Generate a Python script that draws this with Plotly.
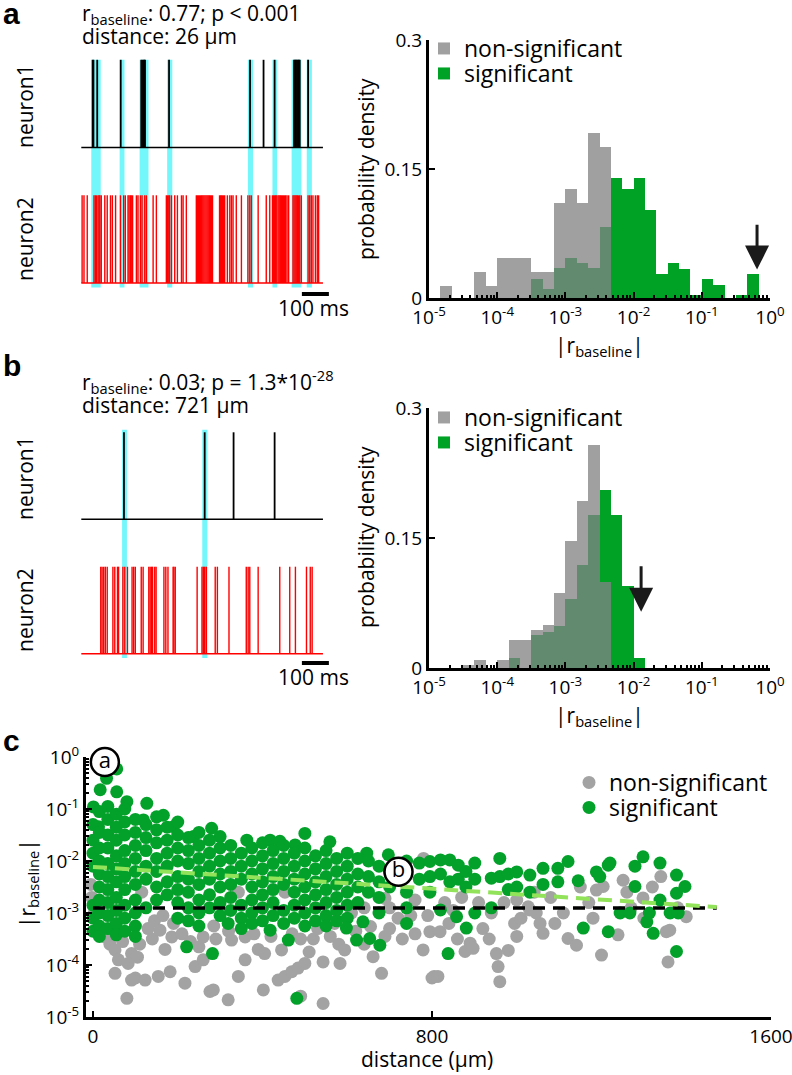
import numpy as np
import plotly.graph_objects as go

W, H = 792, 1075
FONT = "Open Sans"

# ---------------- data ----------------
# Panel a raster (times in ms)
a_n1_spikes = [42, 45, 59, 146, 222, 226, 230, 233, 236, 325, 625, 675, 716,
               788, 792, 795, 799, 803, 806, 809, 840]
a_n2_spikes = [3, 10, 22, 47, 52, 56, 62, 66, 69, 74, 87, 96, 108, 115, 127, 145, 157,
               163, 173, 177, 182, 185, 190, 204, 210, 219, 225, 235, 241, 266, 278,
               315, 319, 324, 327, 334, 346, 356, 371, 377, 389,
               426, 430, 434, 438, 442, 446, 450, 454, 458, 462, 466, 470, 474, 478, 482, 486,
               512, 516, 519, 523, 527, 531, 541, 550, 556, 562, 574, 593, 617, 624, 630,
               655, 685, 698, 708, 712, 716, 720, 724, 729, 733, 737, 741, 745, 749, 753,
               757, 762, 768, 784, 788, 792, 796, 800, 804, 809, 815, 840, 846, 852, 858,
               867, 874, 879]
a_band_start = [37, 142, 216, 318, 617, 708, 779, 835]
a_band_end = [72, 160, 249, 337, 636, 725, 815, 854]

# Panel b raster (times in ms)
b_n1_spikes = [158, 457, 564, 716]
b_n2_spikes = [72, 77, 83, 89, 96, 117, 124, 134, 138, 154, 161, 171, 188, 194, 200,
               222, 229, 250, 255, 260, 264, 272, 277, 306, 313, 321, 340, 343, 348,
               429, 447, 452, 457, 463, 496, 504, 547, 611, 618, 624, 655, 735, 772,
               793, 834, 848, 855]
b_band_start = [151, 448]
b_band_end = [169, 467]
record_end_ms = 895
scale_bar_ms = [817, 917]

# Histograms: 30 log-spaced bins from 1e-5 to 1e0 (6 per decade), probability density
a_nonsig = [0, 0.0135, 0, 0, 0.0297, 0.0135, 0.046, 0.046, 0.046, 0.0297,
            0.0297, 0.111, 0.127, 0.111, 0.192, 0.176, 0, 0, 0, 0,
            0, 0, 0, 0, 0, 0, 0, 0, 0, 0]
a_sig = [0, 0, 0, 0, 0, 0, 0, 0, 0, 0.022,
         0.0104, 0.035, 0.047, 0.0405, 0.035, 0.083, 0.139, 0.127, 0.139, 0.102,
         0.028, 0.0405, 0.034, 0.004, 0.022, 0.0155, 0, 0.0035, 0.028, 0]
b_nonsig = [0, 0, 0, 0.003, 0.009, 0, 0.009, 0.032, 0.032, 0.044,
            0.05, 0.087, 0.146, 0.193, 0.257, 0.0996, 0, 0, 0, 0,
            0, 0, 0, 0, 0, 0, 0, 0, 0, 0]
b_sig = [0, 0, 0, 0, 0, 0, 0, 0.0115, 0, 0.038,
         0.041, 0.049, 0.08, 0.119, 0.177, 0.205, 0.177, 0.095, 0.0115, 0,
         0, 0, 0, 0, 0, 0, 0, 0, 0, 0]
a_arrow_log10r = -0.19
b_arrow_log10r = -1.89

# Panel c scatter: (distance in um, log10 |r_baseline|)
nonsig_points = [
    (-5, -2.45), (-3, -2.7), (3, -3.0), (20, -3.3), (28, -3.46), (40, -3.6), (52, -3.71), (52, -4.16),
    (60, -3.9), (70, -3.55), (80, -4.64), (83, -3.97), (91, -3.78), (91, -4.29), (100, -4.25),
    (105, -3.85), (110, -3.6), (115, -2.6), (123, -4.29), (130, -3.3), (140, -3.5), (145, -3.15),
    (154, -4.22), (158, -3.33), (165, -3.05), (170, -3.7), (182, -4.13), (186, -3.46), (190, -3.2),
    (210, -3.4), (217, -4.35), (230, -3.55), (241, -4.03), (250, -3.65), (260, -3.9), (260, -3.46),
    (276, -4.51), (284, -4.48), (290, -3.5), (285, -3.25), (319, -4.67), (320, -3.35), (327, -3.52),
    (343, -4.22), (343, -2.6), (359, -3.9), (359, -3.46), (380, -3.4), (390, -3.7), (402, -4.48),
    (405, -3.78), (420, -3.45), (437, -4.29), (445, -3.71), (453, -4.22), (453, -2.6), (469, -4.13),
    (470, -3.4), (484, -4.06), (490, -3.5), (490, -4.6), (500, -3.97), (510, -3.75), (520, -3.5),
    (530, -3.3), (543, -3.94), (543, -4.74), (560, -3.45), (570, -3.2), (580, -3.6), (583, -3.97),
    (594, -3.71), (610, -3.0), (620, -3.35), (640, -3.6), (640, -2.9), (655, -3.26), (661, -3.84),
    (681, -4.16), (689, -3.45), (689, -2.72), (700, -3.3), (700, -2.9), (720, -3.1), (730, -3.5),
    (750, -3.05), (760, -2.75), (760, -3.4), (779, -3.71), (780, -1.95), (790, -3.05), (795, -3.36),
    (800, -4.25), (805, -4.22), (814, -4.22), (819, -3.36), (830, -2.8), (840, -3.2), (850, -2.95),
    (860, -3.5), (870, -2.7), (878, -3.74), (890, -3.58), (897, -3.68), (910, -2.8), (920, -3.3),
    (935, -3.5), (940, -3.0), (952, -3.78), (956, -4.03), (960, -4.32), (970, -2.8), (980, -3.72),
    (995, -3.2), (1000, -2.75), (1000, -3.45), (1010, -3.1), (1027, -2.88), (1031, -2.94),
    (1041, -2.6), (1046, -3.0), (1055, -3.2), (1062, -3.39), (1080, -2.7), (1090, -3.2),
    (1110, -3.0), (1121, -3.49), (1141, -3.62), (1150, -2.5), (1170, -2.8), (1180, -3.1),
    (1188, -2.56), (1200, -3.81), (1204, -2.49), (1239, -3.42), (1251, -2.37), (1260, -2.6),
    (1270, -2.9), (1298, -2.71), (1300, -3.1), (1320, -2.5), (1340, -2.3), (1353, -3.36),
    (1357, -3.94), (1361, -3.33), (1380, -2.9), (1400, -3.07),
]
sig_points = [
    (56, -0.23), (32, -0.41), (17, -0.63), (56, -0.67), (80, -0.86), (127, -0.89), (166, -1.12),
    (119, -1.21), (13, -1.34), (1, -0.96), (280, -1.37), (300, -1.53), (237, -1.53), (190, -1.34),
    (363, -1.6), (418, -1.6), (441, -1.62), (477, -1.69), (500, -1.47), (559, -1.63), (646, -1.85),
    (697, -1.88),
    (0, -1.3), (0, -1.6), (0, -1.85), (0, -2.1), (0, -2.85), (0, -3.1), (0, -3.35),
    (15, -1.05), (15, -1.45), (15, -1.75), (15, -2.0), (15, -2.25), (15, -2.5), (15, -2.75), (15, -3.0), (15, -3.25), (15, -3.45),
    (35, -0.95), (35, -1.2), (35, -1.5), (35, -1.75), (35, -2.05), (35, -2.3), (35, -2.55), (35, -2.8), (35, -3.05), (35, -3.3),
    (55, -1.1), (55, -1.35), (55, -1.6), (55, -1.9), (55, -2.15), (55, -2.4), (55, -2.7), (55, -2.95), (55, -3.2), (55, -3.42),
    (75, -1.0), (75, -1.25), (75, -1.5), (75, -1.8), (75, -2.05), (75, -2.3), (75, -2.55), (75, -2.85), (75, -3.1), (75, -3.35),
    (100, -1.2), (100, -1.45), (100, -1.7), (100, -1.95), (100, -2.2), (100, -2.45), (100, -2.75), (100, -3.0), (100, -3.25), (100, -3.45),
    (125, -1.3), (125, -1.55), (125, -1.8), (125, -2.1), (125, -2.35), (125, -2.9),
    (150, -1.15), (150, -1.4), (150, -1.65), (150, -1.95), (150, -2.2), (150, -2.5), (150, -2.75),
    (175, -1.35), (175, -1.6), (175, -1.85), (175, -2.1), (175, -2.4), (175, -2.65),
    (200, -1.25), (200, -1.5), (200, -1.75), (200, -2.0), (200, -2.3), (200, -2.55), (200, -2.8), (200, -3.1),
    (225, -1.55), (225, -1.8), (225, -2.05), (225, -2.35), (225, -2.6), (225, -2.9), (225, -3.15),
    (250, -1.45), (250, -1.7), (250, -1.95), (250, -2.2), (250, -2.45), (250, -2.75), (250, -3.0), (250, -3.25),
    (275, -1.6), (275, -1.85), (275, -2.1), (275, -2.35), (275, -2.65), (275, -2.9),
    (300, -1.75), (300, -2.0), (300, -2.25), (300, -2.5), (300, -2.8), (300, -3.05),
    (325, -1.7), (325, -1.95), (325, -2.2), (325, -2.45), (325, -2.7), (325, -2.95), (319, -3.2),
    (350, -1.85), (350, -2.1), (350, -2.35), (350, -2.85), (350, -3.1), (350, -3.3),
    (375, -1.75), (375, -2.0), (375, -2.25), (375, -2.5), (375, -2.75), (375, -3.0), (375, -3.2),
    (400, -1.65), (400, -1.9), (400, -2.15), (400, -2.4), (400, -2.65), (400, -2.9), (400, -3.15),
    (425, -1.8), (425, -2.05), (425, -2.3), (425, -2.55), (425, -2.8), (425, -3.05), (418, -3.33),
    (450, -1.7), (450, -1.95), (450, -2.2), (450, -2.45), (450, -2.95), (450, -3.2),
    (475, -1.85), (475, -2.1), (475, -2.35), (475, -2.6), (475, -2.85), (475, -3.1),
    (500, -1.75), (500, -2.0), (500, -2.25), (500, -2.5), (500, -2.75), (500, -3.0), (500, -3.25),
    (525, -1.9), (525, -2.15), (525, -2.4), (525, -2.65), (525, -2.9), (525, -3.15),
    (550, -1.8), (550, -2.05), (550, -2.3), (550, -2.55), (550, -2.8), (550, -3.05), (550, -3.25),
    (575, -1.95), (575, -2.2), (575, -2.45), (575, -2.7), (575, -2.95), (575, -3.15),
    (600, -1.85), (600, -2.1), (600, -2.35), (600, -2.6), (600, -2.85), (600, -3.1),
    (221, -3.65), (282, -3.78), (461, -3.52), (481, -4.64), (598, -3.29), (622, -3.52), (653, -3.49),
    (677, -3.62), (637, -3.17), (740, -3.2), (838, -3.78), (881, -3.29), (858, -3.07), (1157, -3.29),
    (1216, -3.36), (1322, -3.39), (1377, -3.74), (1244, -3.0), (1267, -3.0), (1307, -3.17),
    (1362, -3.0), (1381, -3.0),
    (625, -1.95), (625, -2.25), (625, -2.5), (625, -2.8), (650, -2.0), (650, -2.3), (650, -2.6),
    (675, -2.1), (675, -2.4), (675, -2.7), (675, -3.0), (700, -2.2), (700, -2.5), (720, -2.21),
    (740, -2.0), (740, -2.6), (740, -2.9), (770, -2.04), (770, -2.35), (795, -2.01), (795, -2.3),
    (795, -2.6), (820, -1.98), (820, -2.25), (820, -2.94), (842, -1.98), (842, -2.4), (862, -2.08),
    (862, -2.35), (880, -2.2), (880, -2.5), (901, -2.04), (901, -2.35), (901, -3.0), (940, -2.33),
    (940, -2.9), (960, -1.95), (960, -2.3), (980, -2.25), (980, -2.55), (1000, -2.21), (1000, -2.5),
    (1031, -2.27), (1031, -2.6), (1062, -2.14), (1062, -2.45), (1097, -2.14), (1097, -2.4),
    (1121, -2.01), (1145, -2.38), (1188, -2.21), (1196, -2.3), (1216, -2.08), (1220, -2.04),
    (1279, -2.1), (1279, -2.49), (1298, -1.92), (1338, -2.04), (1338, -2.75), (1377, -2.27),
    (1397, -2.49), (1377, -2.62), (1313, -3.0),
]
fit_dist = [0, 1472]
fit_r = [7.7e-3, 1.3e-3]
threshold_r = 1.25e-3
example_labels = ["a", "b"]
example_dist = [28, 721]
example_r = [0.80, 0.0062]

# ---------------- styling ----------------
GRAY_H = "#a0a0a0"
GREEN = "#00a226"
OVERLAP = "#618a6e"
S_GRAY = "#a3a3a3"
S_GREEN = "#03a12a"
LIGHT_GREEN = "#93e35a"
CYAN = "rgba(0,240,245,0.55)"
RED = "#ff0000"
N1_OFFSET = 1.545


def pxx(x):
    return x / W


def pyy(y):
    return 1 - y / H


fig = go.Figure()


def spike_xy(times, base):
    xs, ys = [], []
    for t in times:
        xs += [t, t, None]
        ys += [base, base + 1, None]
    return xs, ys


def add_raster(n1, n2, xa, ya):
    x1, y1 = spike_xy(n1, N1_OFFSET)
    x2, y2 = spike_xy(n2, 0)
    fig.add_trace(go.Scatter(x=[0, record_end_ms], y=[N1_OFFSET, N1_OFFSET], mode="lines",
                             line=dict(color="black", width=1.5), xaxis=xa, yaxis=ya,
                             showlegend=False, hoverinfo="skip"))
    fig.add_trace(go.Scatter(x=x1, y=y1, mode="lines", line=dict(color="black", width=1.8),
                             xaxis=xa, yaxis=ya, showlegend=False, hoverinfo="skip"))
    fig.add_trace(go.Scatter(x=[0, record_end_ms], y=[0, 0], mode="lines",
                             line=dict(color=RED, width=1.5), xaxis=xa, yaxis=ya,
                             showlegend=False, hoverinfo="skip"))
    fig.add_trace(go.Scatter(x=x2, y=y2, mode="lines", line=dict(color=RED, width=1.4),
                             xaxis=xa, yaxis=ya, showlegend=False, hoverinfo="skip"))


add_raster(a_n1_spikes, a_n2_spikes, "x", "y")
add_raster(b_n1_spikes, b_n2_spikes, "x3", "y3")

bin_edges = np.linspace(-5, 0, 31)
bin_centers = (bin_edges[:-1] + bin_edges[1:]) / 2
bin_w = bin_edges[1] - bin_edges[0]


def add_hist(nonsig, sig, xa, ya, leg_ns, leg_s):
    nonsig = np.array(nonsig)
    sig = np.array(sig)
    fig.add_trace(go.Bar(x=bin_centers, y=nonsig, width=bin_w, marker=dict(color=GRAY_H, line_width=0),
                         name="non-significant", xaxis=xa, yaxis=ya, legend=leg_ns))
    fig.add_trace(go.Bar(x=bin_centers, y=sig, width=bin_w, marker=dict(color=GREEN, line_width=0),
                         name="significant", xaxis=xa, yaxis=ya, legend=leg_s))
    fig.add_trace(go.Bar(x=bin_centers, y=np.minimum(nonsig, sig), width=bin_w,
                         marker=dict(color=OVERLAP, line_width=0), showlegend=False,
                         xaxis=xa, yaxis=ya))


add_hist(a_nonsig, a_sig, "x2", "y2", "legend", "legend2")
add_hist(b_nonsig, b_sig, "x4", "y4", "legend3", "legend4")

# scatter
nd, nl = zip(*nonsig_points)
sd, sl = zip(*sig_points)
fig.add_trace(go.Scatter(x=list(nd), y=10 ** np.array(nl), mode="markers",
                         marker=dict(color=S_GRAY, size=13, line_width=0),
                         name="non-significant", xaxis="x5", yaxis="y5", legend="legend5"))
fig.add_trace(go.Scatter(x=list(sd), y=10 ** np.array(sl), mode="markers",
                         marker=dict(color=S_GREEN, size=13, line_width=0),
                         name="significant", xaxis="x5", yaxis="y5", legend="legend6"))
fig.add_trace(go.Scatter(x=fit_dist, y=[threshold_r, threshold_r], mode="lines",
                         line=dict(color="black", width=3.5, dash="12px,8px"),
                         xaxis="x5", yaxis="y5", showlegend=False))
fig.add_trace(go.Scatter(x=fit_dist, y=fit_r, mode="lines",
                         line=dict(color=LIGHT_GREEN, width=4, dash="14px,8px"),
                         xaxis="x5", yaxis="y5", showlegend=False))
fig.add_trace(go.Scatter(x=example_dist, y=example_r, mode="markers+text", text=example_labels,
                         textposition="middle center", cliponaxis=False,
                         textfont=dict(size=22, family=FONT, color="black"),
                         marker=dict(color="white", size=28, line=dict(color="black", width=2.5)),
                         xaxis="x5", yaxis="y5", showlegend=False))

# shapes: cyan bands, scale bars
shapes = []
for s, e in zip(a_band_start, a_band_end):
    shapes.append(dict(type="rect", xref="x", yref="y", x0=s, x1=e, y0=-0.05, y1=N1_OFFSET + 1,
                       fillcolor=CYAN, line_width=0, layer="below"))
for s, e in zip(b_band_start, b_band_end):
    shapes.append(dict(type="rect", xref="x3", yref="y3", x0=s, x1=e, y0=-0.05, y1=N1_OFFSET + 1.03,
                       fillcolor=CYAN, line_width=0, layer="below"))
shapes.append(dict(type="line", xref="x", yref="paper", x0=scale_bar_ms[0], x1=scale_bar_ms[1],
                   y0=pyy(294), y1=pyy(294), line=dict(color="black", width=4)))
shapes.append(dict(type="line", xref="x3", yref="paper", x0=scale_bar_ms[0], x1=scale_bar_ms[1],
                   y0=pyy(663), y1=pyy(663), line=dict(color="black", width=4)))

# annotations
ann = []


def text(x, y, s, size=21, xanchor="left", angle=0, family=FONT):
    ann.append(dict(x=pxx(x), y=pyy(y), xref="paper", yref="paper", text=s, showarrow=False,
                    xanchor=xanchor, yanchor="middle", textangle=angle,
                    font=dict(size=size, family=family, color="black")))


text(1, 14, "<b>a</b>", size=30, family="Arial")
text(80, 14, "r<sub>baseline</sub>: 0.77; p &lt; 0.001")
text(80, 36, "distance: 26 µm")
text(25, 106, "neuron1", xanchor="center", angle=-90)
text(25, 239, "neuron2", xanchor="center", angle=-90)
text(313, 308, "100 ms", xanchor="center")
text(1, 366, "<b>b</b>", size=30, family="Arial")
text(80, 381, "r<sub>baseline</sub>: 0.03; p = 1.3*10<sup>-28</sup>")
text(80, 405, "distance: 721 µm")
text(25, 478, "neuron1", xanchor="center", angle=-90)
text(25, 610, "neuron2", xanchor="center", angle=-90)
text(313, 677, "100 ms", xanchor="center")
text(366, 169, "probability density", xanchor="center", angle=-90)
text(366, 537, "probability density", xanchor="center", angle=-90)
text(599, 346, "|r<sub>baseline</sub>|", xanchor="center")
text(599, 716, "|r<sub>baseline</sub>|", xanchor="center")
text(1, 740, "<b>c</b>", size=30, family="Arial")
text(28, 884, "|r<sub>baseline</sub>|", xanchor="center", angle=-90)
text(427, 1059, "distance (µm)", xanchor="center")

for xa, ya, xv, y0, y1 in [("x2", "y2", a_arrow_log10r, 0.087, 0.033),
                            ("x4", "y4", b_arrow_log10r, 0.119, 0.065)]:
    ann.append(dict(x=xv, y=y1, ax=xv, ay=y0, xref=xa, yref=ya, axref=xa, ayref=ya, text="",
                    showarrow=True, arrowhead=2, arrowsize=1.6, arrowwidth=3, arrowcolor="#1a1a1a"))

# axes
tickfont = dict(size=19, family=FONT, color="black")
hist_ticktext = ["10<sup>-5</sup>", "10<sup>-4</sup>", "10<sup>-3</sup>", "10<sup>-2</sup>",
                 "10<sup>-1</sup>", "10<sup>0</sup>"]
minor_lin = [k + np.log10(m) for k in range(-5, 0) for m in range(2, 10)]
minor_log = [m * 10.0 ** k for k in range(-5, 0) for m in range(2, 10)]


def hist_x(domain):
    return dict(domain=domain, range=[-5, 0], showgrid=False, zeroline=False, showline=True,
                linecolor="black", linewidth=3, ticks="inside", ticklen=6, tickwidth=2,
                tickcolor="black", tickmode="array", tickvals=[-5, -4, -3, -2, -1, 0],
                ticktext=hist_ticktext, tickfont=tickfont, automargin=False,
                ticklabeloverflow="allow",
                minor=dict(tickmode="array", tickvals=minor_lin, ticks="inside", ticklen=3,
                           tickwidth=1.5, tickcolor="black", showgrid=False))


def hist_y(domain, anchor):
    return dict(domain=domain, range=[0, 0.3], showgrid=False, zeroline=False, showline=True,
                linecolor="black", linewidth=3, ticks="inside", ticklen=6, tickwidth=2,
                tickcolor="black", tickmode="array", tickvals=[0, 0.15, 0.3],
                ticktext=["0", "0.15", "0.3"], tickfont=tickfont, anchor=anchor, automargin=False)


raster_x = dict(domain=[pxx(70), pxx(340)], range=[(70 - 81.3) / 0.27, (340 - 81.3) / 0.27],
                visible=False, automargin=False)
xdom_hist = [pxx(429), pxx(770)]

legend_common = dict(xanchor="left", yanchor="top", bgcolor="rgba(0,0,0,0)",
                     font=dict(size=23, family=FONT, color="black"), itemclick=False,
                     tracegroupgap=0)
LEG_DY = 21  # legend box top above the item centre (px)

fig.update_layout(
    width=W, height=H, margin=dict(l=0, r=0, t=0, b=0, pad=0, autoexpand=False),
    autosize=False,
    paper_bgcolor="white", plot_bgcolor="rgba(0,0,0,0)",
    barmode="overlay", bargap=0,
    font=dict(family=FONT, color="black"),
    xaxis=dict(raster_x, anchor="y"),
    yaxis=dict(domain=[pyy(295), pyy(55)], range=[(283 - 295) / 87.7, (283 - 55) / 87.7],
               visible=False, anchor="x", automargin=False),
    xaxis2=dict(hist_x(xdom_hist), anchor="y2"),
    yaxis2=hist_y([pyy(298), pyy(40)], "x2"),
    xaxis3=dict(raster_x, anchor="y3"),
    yaxis3=dict(domain=[pyy(665), pyy(425)], range=[(653.7 - 665) / 87, (653.7 - 425) / 87],
                visible=False, anchor="x3", automargin=False),
    xaxis4=dict(hist_x(xdom_hist), anchor="y4"),
    yaxis4=hist_y([pyy(668), pyy(408)], "x4"),
    xaxis5=dict(domain=[pxx(86), pxx(771)], range=[-16.5, 1600], showgrid=False, zeroline=False,
                showline=True, linecolor="black", linewidth=3, ticks="inside", ticklen=6,
                tickwidth=2, tickcolor="black", tickmode="array", tickvals=[0, 800, 1600],
                ticktext=["0", "800", "1600"], ticklabeloverflow="allow",
                tickfont=tickfont, anchor="y5", automargin=False),
    yaxis5=dict(domain=[pyy(1017), pyy(757)], type="log", range=[-5, 0], showgrid=False,
                zeroline=False, showline=True, linecolor="black", linewidth=3, ticks="inside",
                ticklen=6, tickwidth=2, tickcolor="black", tickmode="array",
                tickvals=[1e-5, 1e-4, 1e-3, 1e-2, 1e-1, 1], ticktext=hist_ticktext,
                tickfont=tickfont, anchor="x5", automargin=False,
                minor=dict(tickmode="array", tickvals=minor_log, ticks="inside", ticklen=3,
                           tickwidth=1.5, tickcolor="black", showgrid=False)),
    legend=dict(legend_common, x=pxx(424), y=pyy(48 - LEG_DY)),
    legend2=dict(legend_common, x=pxx(424), y=pyy(73 - LEG_DY)),
    legend3=dict(legend_common, x=pxx(424), y=pyy(417 - LEG_DY)),
    legend4=dict(legend_common, x=pxx(424), y=pyy(442 - LEG_DY)),
    legend5=dict(legend_common, x=pxx(569), y=pyy(782 - LEG_DY)),
    legend6=dict(legend_common, x=pxx(569), y=pyy(807 - LEG_DY)),
    shapes=shapes,
    annotations=ann,
)

fig.write_html("out.html", config={"displayModeBar": False},
               post_script="document.body.style.margin='0px';document.body.style.padding='0px';")
